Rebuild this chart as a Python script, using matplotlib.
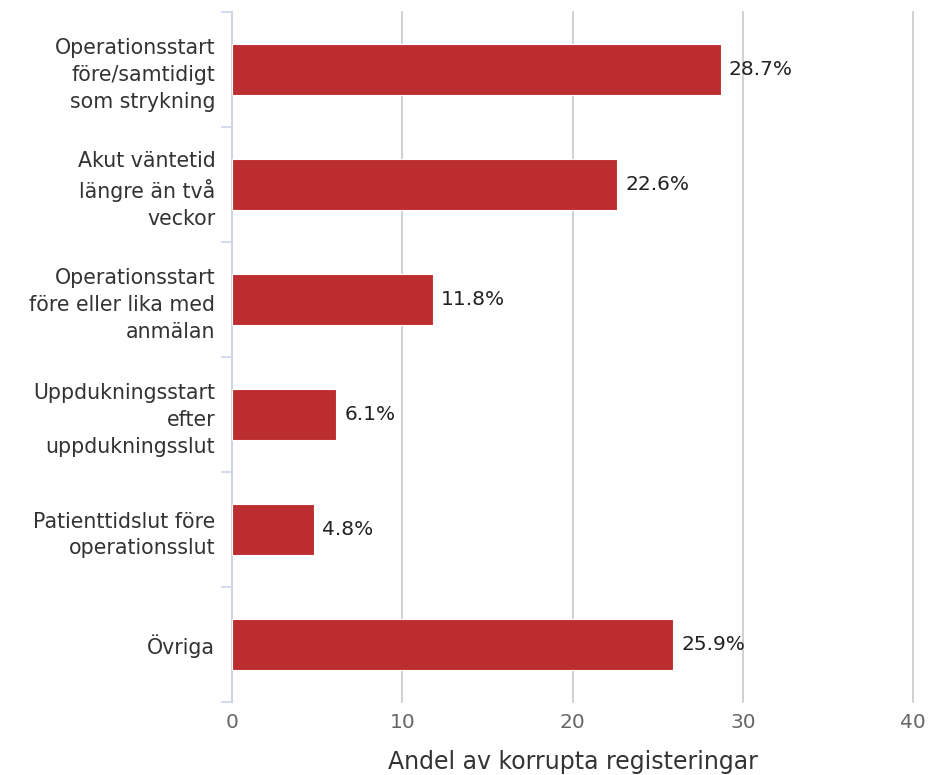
import matplotlib
matplotlib.use("Agg")
import matplotlib.pyplot as plt
import numpy as np

# data
categories = [
    "Operationsstart\nföre/samtidigt\nsom strykning",
    "Akut väntetid\nlängre än två\nveckor",
    "Operationsstart\nföre eller lika med\nanmälan",
    "Uppdukningsstart\nefter\nuppdukningsslut",
    "Patienttidslut före\noperationsslut",
    "Övriga",
]
values = [28.7, 22.6, 11.8, 6.1, 4.8, 25.9]
x_ticks = [0, 10, 20, 30, 40]

plt.rcParams["font.family"] = ["DejaVu Sans"]

fig = plt.figure(figsize=(9.33, 7.75), dpi=100)
ax = fig.add_axes([232 / 933, 1 - 702 / 775, (913 - 232) / 933, (702 - 12) / 775])

y = np.arange(len(categories))
ax.barh(y, values, height=0.45, color="#bb2d2f", edgecolor="white", linewidth=0.8, zorder=3)

# value labels
for yi, v in zip(y, values):
    ax.annotate(f"{v}%", xy=(v, yi), xytext=(6, 0), textcoords="offset points",
                va="center", ha="left", fontsize=14.5, color="#222222", zorder=4)

ax.set_xlim(0, 40)
ax.set_ylim(len(categories) - 0.5, -0.5)

ax.set_xticks(x_ticks)
ax.set_xticklabels([str(t) for t in x_ticks])
ax.tick_params(axis="x", length=0, pad=8, labelsize=14.5, labelcolor="#666666")
ax.grid(axis="x", color="#c8c8c8", linewidth=1.2, zorder=0)
for gl in ax.get_xgridlines():
    gl.set_clip_on(False)  # keep the 40 line full width at the edge

ax.set_yticks(y)
ax.set_yticklabels(categories, fontsize=14.8, color="#333333", linespacing=1.42)
ax.tick_params(axis="y", which="major", length=0, pad=12)
ax.set_yticks(np.arange(-0.5, len(categories), 1), minor=True)
ax.tick_params(axis="y", which="minor", length=8, width=1.2, color="#ccd6eb")

for side in ["top", "right", "bottom"]:
    ax.spines[side].set_visible(False)
ax.spines["left"].set_color("#ccd6eb")
ax.spines["left"].set_linewidth(1.2)

ax.set_xlabel("Andel av korrupta registeringar", fontsize=17, color="#333333", labelpad=13)

fig.savefig("out.png", dpi=100)
